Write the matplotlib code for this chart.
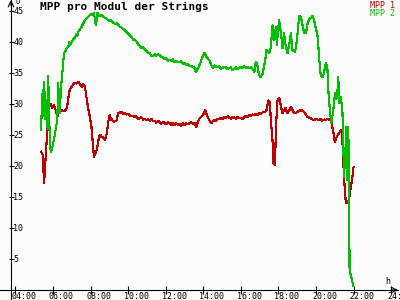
import matplotlib
matplotlib.use('Agg')
import matplotlib.pyplot as plt
from matplotlib.lines import Line2D
from matplotlib.transforms import ScaledTranslation

# minutes since midnight, MPP voltage per module
mpp1_min = [322, 327, 329, 332, 335, 338, 342, 345, 348, 353, 358, 363, 369, 374, 379, 383, 388, 393, 398, 403,
            407, 412, 416, 420, 425, 430, 436, 441, 445, 448, 452, 456, 459, 462, 467, 472, 478, 483, 486, 488,
            491, 494, 497, 502, 507, 512, 516, 520, 523, 526, 530, 533, 536, 539, 541, 544, 547, 551, 554, 558,
            563, 566, 568, 573, 579, 584, 589, 594, 600, 605, 610, 616, 621, 626, 632, 637, 642, 648, 653, 658,
            664, 669, 674, 680, 685, 690, 696, 701, 706, 712, 717, 722, 727, 732, 738, 743, 748, 754, 759, 764,
            770, 775, 780, 786, 791, 796, 801, 806, 812, 815, 818, 822, 825, 828, 833, 838, 842, 847, 850, 854,
            860, 865, 870, 876, 881, 886, 892, 897, 902, 907, 912, 918, 923, 928, 934, 939, 944, 949, 955, 960,
            966, 971, 976, 981, 987, 992, 997, 1003, 1008, 1013, 1019, 1024, 1030, 1035, 1039, 1042, 1045, 1048,
            1051, 1053, 1056, 1059, 1061, 1064, 1069, 1072, 1075, 1077, 1080, 1083, 1086, 1088, 1093, 1098, 1102,
            1106, 1109, 1115, 1120, 1125, 1130, 1136, 1141, 1146, 1152, 1157, 1162, 1168, 1173, 1178, 1183, 1189,
            1194, 1199, 1204, 1210, 1215, 1220, 1226, 1231, 1236, 1241, 1247, 1250, 1254, 1257, 1260, 1263, 1266,
            1270, 1273, 1278, 1282, 1286, 1289, 1293, 1295, 1300, 1305, 1308, 1313, 1316, 1319, 1321]
mpp1_val = [22.3, 21.8, 19.9, 17.2, 19.9, 22.6, 25.3, 27.9, 29.5, 30.0, 29.4, 29.8, 29.0, 27.9, 28.7, 28.8, 29.0,
            28.8, 28.9, 29.2, 30.1, 32.0, 32.5, 32.8, 33.2, 33.4, 33.3, 33.6, 33.3, 33.1, 32.8, 33.2, 33.0, 32.9,
            31.1, 29.5, 27.9, 26.3, 24.5, 23.1, 21.5, 21.8, 22.1, 23.1, 24.7, 25.0, 24.6, 24.7, 24.4, 24.2, 24.8,
            25.5, 26.9, 27.8, 28.2, 27.5, 27.7, 27.3, 27.1, 27.2, 27.3, 28.0, 28.5, 28.6, 28.7, 28.4, 28.5, 28.3,
            28.4, 28.2, 28.0, 28.1, 27.9, 28.0, 27.6, 27.7, 27.9, 27.5, 27.6, 27.4, 27.5, 27.3, 27.6, 27.2, 27.3,
            27.0, 27.3, 27.1, 26.8, 27.1, 26.9, 26.7, 27.1, 26.9, 26.6, 27.0, 26.6, 26.9, 26.6, 26.8, 26.5, 26.9,
            26.6, 26.9, 26.7, 26.9, 27.1, 26.8, 26.9, 26.6, 26.3, 27.0, 27.4, 27.7, 27.9, 28.2, 28.5, 29.0, 28.4,
            27.9, 27.3, 26.9, 27.2, 27.4, 27.3, 27.6, 27.6, 27.8, 27.6, 27.9, 27.7, 28.0, 27.8, 27.6, 27.9, 27.8,
            27.6, 27.9, 27.7, 27.8, 27.6, 27.9, 28.1, 27.9, 28.2, 28.0, 28.3, 28.2, 28.4, 28.2, 28.5, 28.4, 28.7,
            28.7, 28.8, 29.0, 29.8, 30.6, 30.4, 30.1, 26.9, 25.5, 24.2, 20.5, 20.2, 26.3, 29.0, 30.6, 30.8, 30.9,
            30.2, 29.5, 28.5, 28.9, 29.4, 28.8, 28.5, 29.0, 29.5, 29.0, 28.5, 28.6, 28.7, 28.9, 29.0, 28.9, 28.7,
            28.3, 27.9, 27.8, 27.7, 27.5, 27.4, 27.6, 27.5, 27.4, 27.6, 27.3, 27.5, 27.4, 27.6, 27.5, 27.4, 26.8,
            25.8, 24.8, 23.9, 24.3, 24.7, 25.0, 25.3, 25.6, 25.8, 22.1, 18.2, 15.6, 14.0, 14.0, 14.5, 15.6, 17.2,
            18.2, 19.7, 19.8]

mpp2_min = [322, 326, 328, 330, 332, 336, 340, 343, 345, 348, 351, 354, 358, 361, 366, 370, 374, 377, 380, 382,
            385, 388, 391, 393, 396, 400, 404, 409, 412, 415, 420, 425, 430, 434, 438, 441, 446, 451, 456, 462,
            467, 472, 478, 483, 487, 491, 494, 497, 500, 502, 508, 515, 522, 531, 540, 546, 552, 560, 566, 573,
            580, 589, 596, 600, 605, 612, 616, 621, 628, 632, 637, 643, 648, 653, 660, 664, 669, 673, 678, 685,
            690, 696, 701, 706, 712, 717, 722, 727, 732, 738, 743, 748, 754, 759, 764, 770, 775, 780, 786, 791,
            796, 801, 806, 810, 812, 815, 818, 821, 825, 828, 832, 836, 840, 844, 847, 850, 855, 860, 864, 868,
            872, 876, 881, 886, 890, 896, 901, 906, 912, 917, 923, 928, 933, 939, 944, 949, 955, 960, 966, 971,
            976, 981, 987, 992, 997, 1003, 1008, 1013, 1017, 1021, 1025, 1029, 1033, 1038, 1042, 1046, 1051, 1056,
            1059, 1061, 1064, 1067, 1070, 1072, 1075, 1078, 1082, 1085, 1088, 1093, 1098, 1101, 1104, 1109, 1114,
            1120, 1122, 1125, 1133, 1137, 1141, 1144, 1146, 1151, 1154, 1157, 1162, 1168, 1173, 1177, 1180, 1185,
            1189, 1194, 1199, 1204, 1207, 1210, 1213, 1216, 1220, 1223, 1226, 1231, 1236, 1239, 1242, 1244, 1249,
            1252, 1255, 1258, 1261, 1264, 1266, 1269, 1271, 1274, 1279, 1284, 1287, 1289, 1293, 1297, 1300, 1303,
            1306, 1307, 1311, 1316, 1319]
mpp2_val = [25.8, 31.1, 32.3, 28.0, 33.5, 27.5, 30.6, 26.0, 34.5, 28.0, 23.0, 22.3, 23.0, 23.7, 25.0, 26.3, 27.5,
            33.4, 29.0, 28.5, 32.0, 33.9, 35.5, 37.0, 38.2, 38.5, 39.0, 39.2, 40.0, 39.6, 40.0, 40.5, 40.6, 41.2,
            41.0, 41.6, 42.0, 42.4, 42.9, 43.5, 43.8, 44.0, 44.3, 44.5, 44.3, 44.6, 43.8, 42.7, 43.6, 44.7, 44.2,
            44.4, 44.0, 43.8, 43.4, 43.5, 43.1, 42.9, 43.0, 42.5, 42.3, 41.9, 41.6, 41.4, 41.1, 40.8, 40.3, 40.4,
            40.0, 39.6, 39.4, 39.0, 39.2, 38.8, 38.5, 38.3, 38.2, 37.8, 37.7, 38.0, 37.8, 38.0, 37.9, 37.6, 37.5,
            37.2, 37.4, 37.0, 37.1, 36.9, 37.2, 36.8, 37.0, 36.7, 36.8, 36.9, 36.5, 36.6, 36.3, 36.4, 36.1, 36.2,
            35.9, 36.0, 35.8, 35.3, 35.2, 35.6, 35.9, 36.3, 36.8, 37.4, 37.9, 38.2, 37.9, 37.6, 37.3, 37.0, 36.5,
            36.0, 35.8, 36.2, 36.0, 35.9, 36.1, 35.7, 35.8, 36.0, 35.9, 35.6, 35.8, 35.9, 35.5, 35.6, 35.9, 35.7,
            35.8, 36.0, 35.8, 36.1, 35.8, 35.9, 35.8, 35.9, 35.6, 35.2, 36.8, 36.2, 35.0, 34.3, 34.5, 34.8, 35.8,
            37.1, 38.7, 38.5, 38.2, 39.2, 41.5, 42.7, 41.0, 40.3, 41.8, 42.4, 39.5, 41.5, 43.5, 42.5, 41.4, 39.0,
            41.4, 40.0, 39.2, 38.2, 39.5, 41.4, 40.0, 38.7, 38.4, 39.5, 41.4, 43.0, 44.2, 44.0, 43.5, 42.7, 41.4,
            41.4, 43.0, 43.5, 43.8, 43.9, 44.2, 43.5, 42.2, 41.4, 39.5, 37.6, 35.2, 34.6, 34.3, 34.6, 35.2, 36.6,
            36.0, 32.3, 30.5, 29.0, 26.9, 28.0, 29.0, 30.5, 31.8, 30.8, 31.1, 32.5, 34.3, 30.1, 31.1, 29.0, 24.0,
            18.2, 21.5, 26.3, 17.7, 26.3, 11.8, 3.2, 2.4, 1.3, 0.6]

y_ticks = [5, 10, 15, 20, 25, 30, 35, 40, 45]
x_ticks = [4, 6, 8, 10, 12, 14, 16, 18, 20, 22, 24]
x_labels = ['04:00', '06:00', '08:00', '10:00', '12:00', '14:00', '16:00', '18:00', '20:00', '22:00', '24:00']

red = '#c00000'
green = '#00c000'
bg = '#fcfcfc'
mono = 'DejaVu Sans Mono'

fig = plt.figure(figsize=(4, 3), dpi=100, facecolor=bg)
ax = fig.add_axes([11/400, 10/300, 387/400, 290/300])
ax.set_facecolor(bg)

ax.plot([m/60 for m in mpp1_min], mpp1_val, color=red, lw=0.8, antialiased=False)
ax.plot([m/60 for m in mpp2_min], mpp2_val, color=green, lw=0.8, antialiased=False)

ax.set_xlim(3.77, 24.36)
ax.set_ylim(0, 46.77)

for s in ax.spines.values():
    s.set_visible(False)

# axis lines crossing each other, with arrows
ax.add_line(Line2D([-11/387, 1], [0, 0], transform=ax.transAxes, color='black', lw=0.8, clip_on=False))
ax.add_line(Line2D([0, 0], [-10/290, 1], transform=ax.transAxes, color='black', lw=0.8, clip_on=False))
ax.annotate('', xy=(1.0, 0), xytext=(0.985, 0), xycoords='axes fraction',
            arrowprops=dict(arrowstyle='->', lw=0.8, color='black', shrinkA=0, shrinkB=0))
ax.annotate('', xy=(0, 1.0), xytext=(0, 0.98), xycoords='axes fraction',
            arrowprops=dict(arrowstyle='->', lw=0.8, color='black', shrinkA=0, shrinkB=0))

ax.set_xticks(x_ticks)
ax.set_xticklabels(x_labels, fontfamily=mono, fontsize=6)
ax.set_yticks(y_ticks)
ax.set_yticklabels([str(v) for v in y_ticks], fontfamily=mono, fontsize=6)
ax.tick_params(axis='x', direction='inout', length=6, width=0.8, pad=-1.5)
ax.tick_params(axis='y', direction='inout', length=3.6, width=0.8, pad=-3.4)
for lab in ax.get_xticklabels():
    lab.set_ha('left')
    lab.set_transform(lab.get_transform() + ScaledTranslation(-4/100, 0, fig.dpi_scale_trans))
for lab in ax.get_yticklabels():
    lab.set_ha('left')

fig.text(40/400, 1 - 7/300, 'MPP pro Modul der Strings', fontfamily=mono, fontweight='bold',
         fontsize=8, ha='left', va='center')
fig.text(395/400, 1 - 5/300, 'MPP 1', color=red, fontfamily=mono, fontsize=6, ha='right', va='center')
fig.text(395/400, 1 - 13/300, 'MPP 2', color=green, fontfamily=mono, fontsize=6, ha='right', va='center')
fig.text(15/400, 1 - 2/300, 'U', fontfamily=mono, fontsize=5, ha='left', va='center')
fig.text(385/400, 1 - 282/300, 'h', fontfamily=mono, fontsize=6, ha='left', va='center')

fig.savefig('out.png', dpi=100, facecolor=bg)
